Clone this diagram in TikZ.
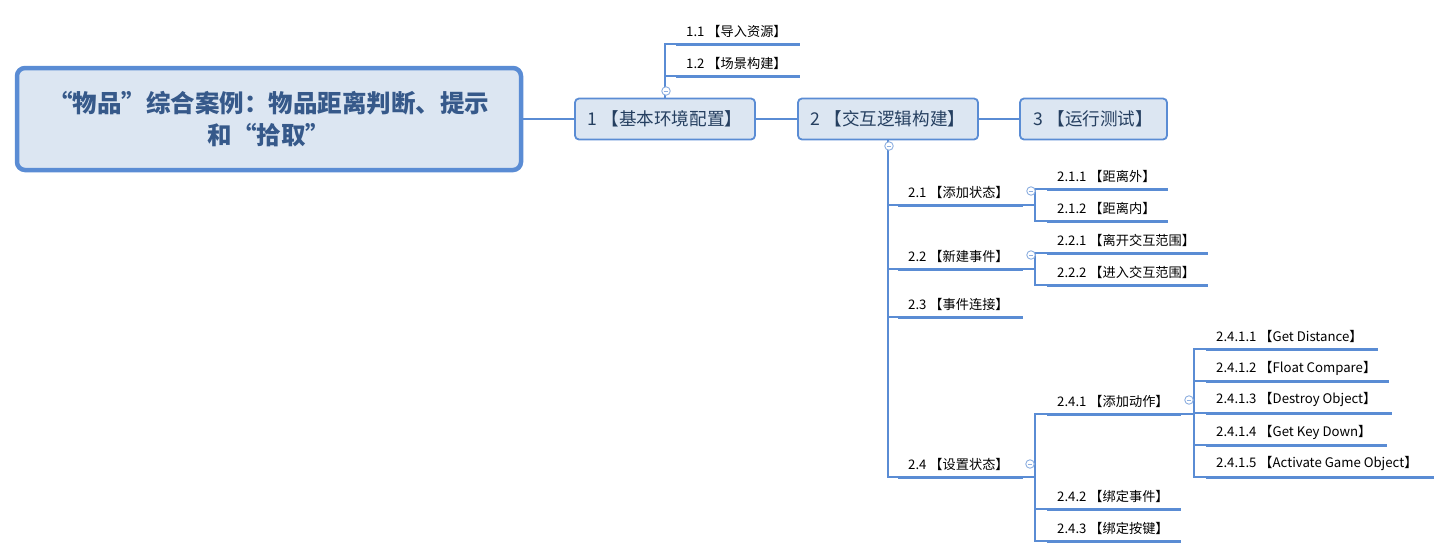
\documentclass[tikz,border=0pt]{standalone}
\usepackage{fontspec}
\setmainfont{Noto Sans CJK SC}
\definecolor{bl}{HTML}{5A8CD4}
\definecolor{bfill}{HTML}{DCE6F2}
\definecolor{roottxt}{HTML}{36598A}
\definecolor{maintxt}{HTML}{253F60}
\definecolor{circ}{HTML}{8DAFE0}
\begin{document}
\begin{tikzpicture}[x=1pt,y=-1pt,
  conn/.style={draw=bl,line width=1.1pt},
  uline/.style={draw=bl,line width=3pt},
  tlabel/.style={anchor=west,inner sep=0pt,font=\fontsize{13.2}{15}\selectfont,text=black},
  mainbox/.style={draw=bl,fill=bfill,line width=1.8pt,rounded corners=4pt,minimum height=41pt,inner sep=0pt,font=\fontsize{17.6}{20}\selectfont,text=maintxt},
  rootbox/.style={draw=bl,fill=bfill,line width=4.5pt,rounded corners=8pt,minimum width=504pt,minimum height=102pt,inner sep=0pt,align=center,font=\fontsize{24.5}{32}\selectfont\bfseries,text=roottxt},
  fold/.style={circle,draw=circ,fill=white,line width=0.9pt,minimum size=8.5pt,inner sep=0pt,path picture={\draw[circ,line width=0.8pt] ([xshift=-2.2pt]path picture bounding box.center) -- ([xshift=2.2pt]path picture bounding box.center);}}
]
\useasboundingbox (0,0) rectangle (1452,558);
\newcommand\topic[5]{%
  \coordinate (#1-l) at (#2,#4);
  \coordinate (#1-r) at (#3,#4);
  \draw[uline] (#1-l) -- (#1-r);
  \node[tlabel] (#1) at (#2+10,#4-13) {#5};
}
% root and main topics
\node[rootbox] (root) at (269,119) {“物品”综合案例：物品距离判断、提示\\和“拾取”};
\node[mainbox,minimum width=180pt] (n1) at (665,119) {1 【基本环境配置】};
\node[mainbox,minimum width=180pt] (n2) at (888,119) {2 【交互逻辑构建】};
\node[mainbox,minimum width=147pt] (n3) at (1093.5,119) {3 【运行测试】};
\draw[conn] (root.east) -- (n1.west);
\draw[conn] (n1.east) -- (n2.west);
\draw[conn] (n2.east) -- (n3.west);
% branch 1
\topic{t11}{676}{800}{44}{1.1 【导入资源】}
\topic{t12}{676}{800}{76}{1.2 【场景构建】}
\draw[conn] (n1.north) |- (t11-l);
\draw[conn] (n1.north) |- (t12-l);
\node[fold] (f1) at (666,91) {};
% branch 2
\topic{t21}{898}{1023}{205}{2.1 【添加状态】}
\topic{t22}{898}{1023}{269}{2.2 【新建事件】}
\topic{t23}{898}{1023}{317}{2.3 【事件连接】}
\topic{t24}{898}{1023}{477}{2.4 【设置状态】}
\draw[conn] (n2.south) |- (t21-l);
\draw[conn] (n2.south) |- (t22-l);
\draw[conn] (n2.south) |- (t23-l);
\draw[conn] (n2.south) |- (t24-l);
\node[fold] (f2) at (889,146) {};
% 2.1
\topic{t211}{1047}{1168}{189}{2.1.1 【距离外】}
\topic{t212}{1047}{1168}{221}{2.1.2 【距离内】}
\coordinate (j21) at (1035,205);
\draw[conn] (t21-r) -- (j21) |- (t211-l);
\draw[conn] (j21) |- (t212-l);
\node[fold] (f21) at (1031,191) {};
% 2.2
\topic{t221}{1047}{1208}{253}{2.2.1 【离开交互范围】}
\topic{t222}{1047}{1208}{285}{2.2.2 【进入交互范围】}
\coordinate (j22) at (1035,269);
\draw[conn] (t22-r) -- (j22) |- (t221-l);
\draw[conn] (j22) |- (t222-l);
\node[fold] (f22) at (1031,255) {};
% 2.4
\topic{t241}{1047}{1181}{414}{2.4.1 【添加动作】}
\topic{t242}{1047}{1181}{509}{2.4.2 【绑定事件】}
\topic{t243}{1047}{1181}{541}{2.4.3 【绑定按键】}
\coordinate (j24) at (1035,477);
\draw[conn] (t24-r) -- (j24) |- (t241-l);
\draw[conn] (j24) |- (t242-l);
\draw[conn] (j24) |- (t243-l);
\node[fold] (f24) at (1030,464) {};
% 2.4.1
\topic{t2411}{1206}{1378}{349}{2.4.1.1 【Get Distance】}
\topic{t2412}{1206}{1389}{381}{2.4.1.2 【Float Compare】}
\topic{t2413}{1206}{1392}{413}{2.4.1.3 【Destroy Object】}
\topic{t2414}{1206}{1387}{445}{2.4.1.4 【Get Key Down】}
\topic{t2415}{1206}{1434}{477}{2.4.1.5 【Activate Game Object】}
\coordinate (j241) at (1194,414);
\draw[conn] (t241-r) -- (j241) |- (t2411-l);
\draw[conn] (j241) |- (t2412-l);
\draw[conn] (j241) |- (t2413-l);
\draw[conn] (j241) |- (t2414-l);
\draw[conn] (j241) |- (t2415-l);
\node[fold] (f241) at (1189,400) {};
\end{tikzpicture}
\end{document}
